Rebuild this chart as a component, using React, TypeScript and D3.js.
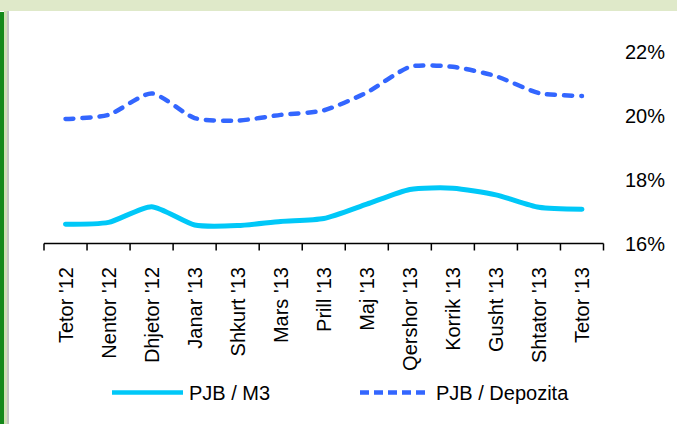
import React from "react";
import * as d3 from "d3";

const categories = [
  "Tetor '12", "Nentor '12", "Dhjetor '12", "Janar '13", "Shkurt '13", "Mars '13",
  "Prill '13", "Maj '13", "Qershor '13", "Korrik '13", "Gusht '13", "Shtator '13", "Tetor '13",
];
const pjbM3 = [16.6, 16.66, 17.15, 16.58, 16.56, 16.69, 16.78, 17.23, 17.69, 17.73, 17.52, 17.13, 17.07];
const pjbDepozita = [19.89, 20.02, 20.69, 19.92, 19.84, 20.02, 20.16, 20.72, 21.52, 21.52, 21.23, 20.7, 20.61];
const yTicks = [16, 18, 20, 22];
const seriesNames = ["PJB / M3", "PJB / Depozita"];

const W = 677;
const H = 424;
const FONT = "'Liberation Sans', Arial, sans-serif";

export default function App() {
  const x = d3.scaleBand<string>().domain(categories).range([44, 603.5]);
  const y = d3.scaleLinear().domain([16, 22]).range([243.5, 51.5]);
  const cx = (c: string) => (x(c) as number) + x.bandwidth() / 2;

  const line = d3
    .line<number>()
    .x((_, i) => cx(categories[i]))
    .y((v) => y(v))
    .curve(d3.curveCardinal.tension(0.35));

  const boundaries = categories.map((c) => x(c) as number).concat([x.range()[1]]);

  return (
    <svg
      width={W}
      height={H}
      style={{ position: "absolute", left: 0, top: 0, background: "#fff" }}
      fontFamily={FONT}
    >
      {/* frame */}
      <rect x={0} y={0} width={W} height={11} fill="#dfe9c9" />
      <rect x={0} y={12} width={4} height={H - 12} fill="#14891a" />
      <rect x={4} y={11} width={3} height={H - 11} fill="#cfe0b4" />
      <rect x={7} y={11} width={2} height={H - 11} fill="#c4c4c4" />

      {/* axis */}
      <line x1={x.range()[0]} x2={x.range()[1]} y1={243.5} y2={243.5} stroke="#000" strokeWidth={1.5} />
      {boundaries.map((b, i) => (
        <line key={i} x1={b} x2={b} y1={243.5} y2={250.5} stroke="#000" strokeWidth={1.5} />
      ))}

      {yTicks.map((t) => (
        <text key={t} x={625} y={y(t)} dy="0.35em" fontSize={20} fill="#000">
          {t}%
        </text>
      ))}

      {categories.map((c) => (
        <text
          key={c}
          transform={`translate(${cx(c)},267) rotate(-90)`}
          textAnchor="end"
          dy="0.35em"
          fontSize={20}
          fill="#000"
        >
          {c}
        </text>
      ))}

      {/* series */}
      <path d={line(pjbM3) || ""} fill="none" stroke="#00c8f8" strokeWidth={5} strokeLinejoin="round" strokeLinecap="round" />
      <path
        d={line(pjbDepozita) || ""}
        fill="none"
        stroke="#3366ff"
        strokeWidth={4.5}
        strokeDasharray="8,9"
        strokeLinecap="round"
      />

      {/* legend */}
      <line x1={112} x2={183} y1={392.5} y2={392.5} stroke="#00c8f8" strokeWidth={4.5} />
      <text x={189} y={392.5} dy="0.35em" fontSize={20} fill="#000">{seriesNames[0]}</text>
      <line x1={360} x2={425} y1={392.5} y2={392.5} stroke="#3366ff" strokeWidth={4.5} strokeDasharray="9,5" strokeLinecap="butt" />
      <text x={436} y={392.5} dy="0.35em" fontSize={20} fill="#000">{seriesNames[1]}</text>
    </svg>
  );
}
